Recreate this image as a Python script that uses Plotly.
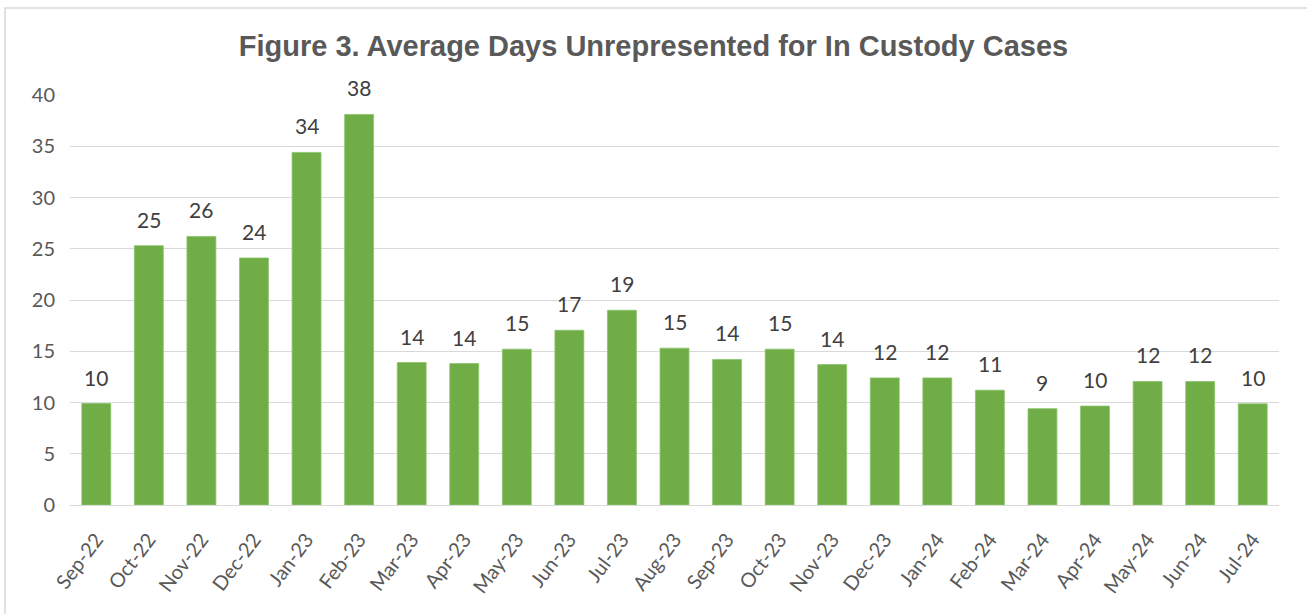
import plotly.graph_objects as go

months = ["Sep-22", "Oct-22", "Nov-22", "Dec-22", "Jan-23", "Feb-23", "Mar-23", "Apr-23",
          "May-23", "Jun-23", "Jul-23", "Aug-23", "Sep-23", "Oct-23", "Nov-23", "Dec-23",
          "Jan-24", "Feb-24", "Mar-24", "Apr-24", "May-24", "Jun-24", "Jul-24"]
avg_days = [9.9, 25.3, 26.2, 24.1, 34.4, 38.1, 13.9, 13.8,
            15.2, 17.05, 19.0, 15.3, 14.2, 15.2, 13.7, 12.4,
            12.4, 11.2, 9.4, 9.65, 12.05, 12.05, 9.87]
y_ticks = [0, 5, 10, 15, 20, 25, 30, 35, 40]

W, H = 1307, 614
L, R, T, B = 70, 28, 95, 109
pw, ph = W - L - R, H - T - B

fig = go.Figure(go.Bar(
    x=months, y=avg_days,
    marker=dict(color="#70ad47", line=dict(color="#8cc46a", width=0.8)),
    hoverinfo="skip",
))

for m, v in zip(months, avg_days):
    fig.add_annotation(x=m, y=v, text=f"{v:.0f}", showarrow=False,
                       yanchor="bottom", yshift=12,
                       font=dict(family="Lato", size=21, color="#404040"))

fig.update_layout(
    width=W, height=H,
    margin=dict(l=L, r=R, t=T, b=B, autoexpand=False),
    paper_bgcolor="white", plot_bgcolor="white",
    bargap=0.45,
    showlegend=False,
    title=dict(text="<b>Figure 3. Average Days Unrepresented for In Custody Cases</b>",
               x=0.5, xanchor="center", y=1 - 46 / H, yanchor="middle",
               font=dict(family="Liberation Sans", size=29, color="#595959")),
    xaxis=dict(tickangle=-53, tickfont=dict(family="Lato", size=20, color="#595959"),
               showgrid=False, showline=False, ticks="", ticklabelstandoff=18,
               automargin=False),
    yaxis=dict(range=[0, 40], tickvals=y_ticks, showgrid=True, gridcolor="#d9d9d9",
               gridwidth=1, zeroline=True, zerolinecolor="#d9d9d9", zerolinewidth=1,
               showline=False, ticks="", ticklabelstandoff=14, automargin=False,
               tickfont=dict(family="Lato", size=20, color="#595959")),
    shapes=[dict(type="rect", xref="paper", yref="paper",
                 x0=(5 - L) / pw, x1=(W + 5 - L) / pw,
                 y0=-(B + 10) / ph, y1=(ph + T - 8) / ph,
                 line=dict(color="#d9d9d9", width=1.5), fillcolor="rgba(0,0,0,0)",
                 layer="below")],
)

fig.write_html("out.html", config={"displayModeBar": False},
               post_script="document.body.style.margin='0';")
